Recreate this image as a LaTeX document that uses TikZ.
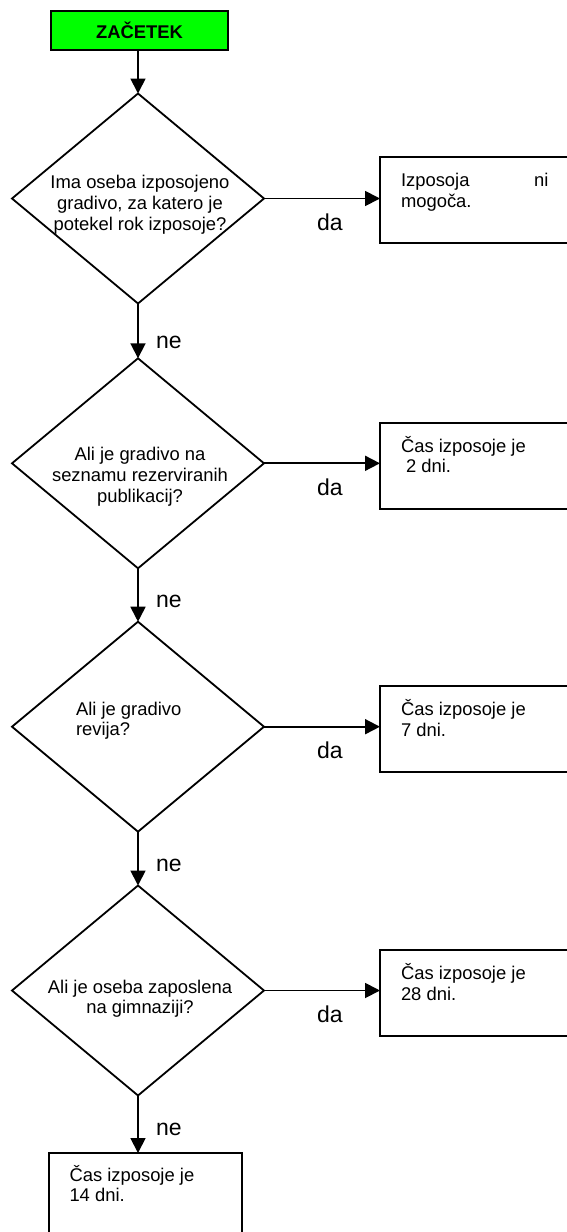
\documentclass[tikz,border=0pt]{standalone}
\usepackage{fontspec}
\setmainfont{Liberation Sans}
\usetikzlibrary{shapes.geometric,arrows.meta}
\definecolor{startgreen}{RGB}{0,255,0}
\begin{document}
\begin{tikzpicture}[x=1pt,y=-1pt,
  every node/.style={inner sep=0pt, outer sep=0pt},
  flow/.style={line width=1.8pt, -{Triangle[length=15pt,width=15pt]}},
  startbox/.style={draw, line width=1.8pt, fill=startgreen, rectangle,
    minimum width=177pt, minimum height=39pt,
    font=\fontsize{18.4}{20.5}\selectfont\bfseries},
  question/.style={draw, line width=1.8pt, diamond, aspect=1.2,
    minimum width=252pt, minimum height=210pt},
  outcome/.style={draw, line width=1.8pt, rectangle, anchor=north west,
    minimum width=200pt, minimum height=86pt},
  txt/.style={font=\fontsize{18.4}{20.5}\selectfont},
  lbl/.style={font=\fontsize{23}{26}\selectfont, anchor=base west},
]
\useasboundingbox (0,0) rectangle (567,1232);
\clip (0,0) rectangle (567,1232);
\fill[white] (0,0) rectangle (567,1232);

% start
\node[startbox] (start) at (139.5,30.5) {ZAČETEK};

% decisions
\node[question] (d1) at (138,198.5) {};
\node[question] (d2) at (138,463.3) {};
\node[question] (d3) at (138,726.7) {};
\node[question] (d4) at (138,990.5) {};

% question texts
\node[txt, anchor=base] (q1a) at (140,188) {Ima oseba izposojeno};
\node[txt, anchor=base] (q1b) at (140,209) {gradivo, za katero je};
\node[txt, anchor=base] (q1c) at (140,230) {potekel rok izposoje?};

\node[txt, anchor=base] (q2a) at (140,460.7) {Ali je gradivo na};
\node[txt, anchor=base] (q2b) at (140,481.4) {seznamu rezerviranih};
\node[txt, anchor=base] (q2c) at (140,502.1) {publikacij?};

\node[txt, anchor=base west] (q3a) at (76,715) {Ali je gradivo};
\node[txt, anchor=base west] (q3b) at (76,735) {revija?};

\node[txt, anchor=base] (q4a) at (140,993) {Ali je oseba zaposlena};
\node[txt, anchor=base] (q4b) at (140,1013.5) {na gimnaziji?};

% outcomes
\node[outcome] (b1) at (380,157) {};
\node[outcome] (b2) at (380,422.7) {};
\node[outcome] (b3) at (380,686) {};
\node[outcome] (b4) at (380,950) {};
\node[outcome, minimum width=193pt, minimum height=110pt] (b5) at (49,1153) {};

\node[txt, anchor=base west] (t1a) at (401,186.5) {\makebox[147.5pt][l]{Izposoja\hfill ni}};
\node[txt, anchor=base west] (t1b) at (401,207) {mogoča.};
\node[txt, anchor=base west] (t2a) at (401,452.2) {Čas izposoje je};
\node[txt, anchor=base west] (t2b) at (401,472.7) {\hspace*{0.278em}2 dni.};
\node[txt, anchor=base west] (t3a) at (401,715.5) {Čas izposoje je};
\node[txt, anchor=base west] (t3b) at (401,736) {7 dni.};
\node[txt, anchor=base west] (t4a) at (401,979.5) {Čas izposoje je};
\node[txt, anchor=base west] (t4b) at (401,1000) {28 dni.};
\node[txt, anchor=base west] (t5a) at (69.5,1181) {Čas izposoje je};
\node[txt, anchor=base west] (t5b) at (69.5,1201) {14 dni.};

% connectors
\draw[flow] (start.south -| d1.north) -- (d1.north);
\draw[flow] (d1.south) -- (d2.north);
\draw[flow] (d2.south) -- (d3.north);
\draw[flow] (d3.south) -- (d4.north);
\draw[flow] (d4.south) -- (d4.south |- b5.north);

\draw[flow] (d1.east) -- (d1.east -| b1.west);
\draw[flow] (d2.east) -- (d2.east -| b2.west);
\draw[flow] (d3.east) -- (d3.east -| b3.west);
\draw[flow] (d4.east) -- (d4.east -| b4.west);

% branch labels
\node[lbl] (da1) at (317,230.5) {da};
\node[lbl] (da2) at (317,495.3) {da};
\node[lbl] (da3) at (317,758.7) {da};
\node[lbl] (da4) at (317,1022.5) {da};

\node[lbl] (ne1) at (156,348.5) {ne};
\node[lbl] (ne2) at (156,607.5) {ne};
\node[lbl] (ne3) at (156,871.7) {ne};
\node[lbl] (ne4) at (156,1135.5) {ne};
\end{tikzpicture}
\end{document}
